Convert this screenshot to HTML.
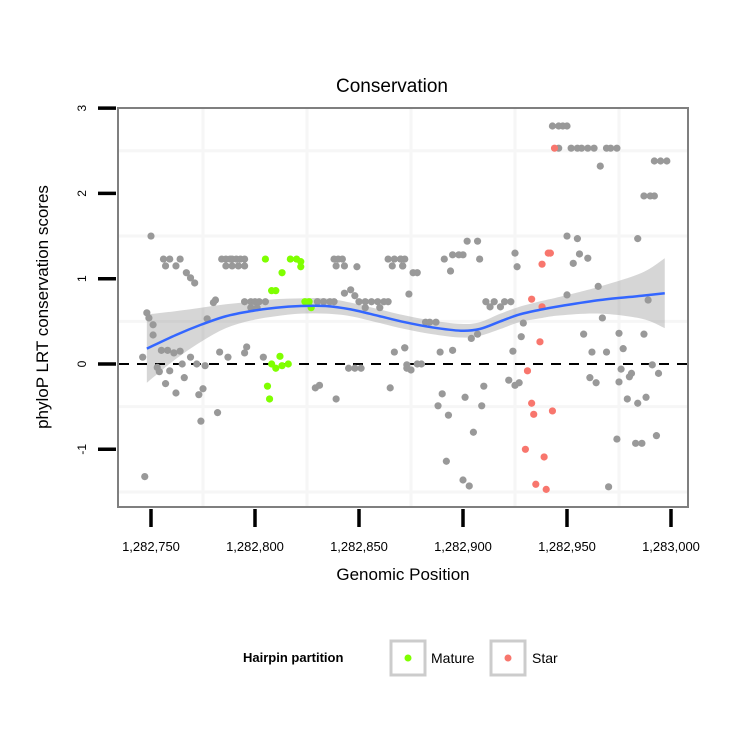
<!DOCTYPE html>
<html><head><meta charset="utf-8"><style>
body{margin:0;background:#fff;}
svg{display:block;font-family:"Liberation Sans",sans-serif;}
</style></head><body>
<svg id="chart" width="750" height="750">
<rect x="0" y="0" width="750" height="750" fill="#fff"/>
<text x="392" y="92" text-anchor="middle" font-size="19">Conservation</text>
<rect x="118" y="108" width="570" height="399" fill="#fff"/>
<g id="grid"></g>
<g id="band"></g>
<line id="zero" stroke="#000" stroke-width="2" stroke-dasharray="10,8"/>
<g id="pts"></g>
<path id="smooth" fill="none" stroke="#3366ff" stroke-width="2.5"/>
<rect x="118" y="108" width="570" height="399" fill="none" stroke="#7f7f7f" stroke-width="2"/>
<g id="axes"></g>
<text x="403" y="580" text-anchor="middle" font-size="17">Genomic Position</text>
<text transform="translate(48,307) rotate(-90)" text-anchor="middle" font-size="17">phyloP LRT conservation scores</text>
<g>
<text x="243" y="662" font-size="13" font-weight="bold">Hairpin partition</text>
<rect x="391" y="641" width="34" height="34" fill="#fff" stroke="#cccccc" stroke-width="3"/>
<circle cx="408" cy="658" r="3.5" fill="#7fff00"/>
<text x="431" y="663" font-size="14">Mature</text>
<rect x="491" y="641" width="34" height="34" fill="#fff" stroke="#cccccc" stroke-width="3"/>
<circle cx="508" cy="658" r="3.5" fill="#f8766d"/>
<text x="532" y="663" font-size="14">Star</text>
</g>
</svg>
<script>
const base = 1282750;
const xTicks = [1282750,1282800,1282850,1282900,1282950,1283000];
const xTickLabels = ["1,282,750","1,282,800","1,282,850","1,282,900","1,282,950","1,283,000"];
const yTicks = [-1,0,1,2,3];
const yTickLabels = ["-1","0","1","2","3"];
const xGrid = [1282775,1282825,1282875,1282925,1282975];
const yGrid = [-1.5,-0.5,0.5,1.5,2.5];
const grayX = [0,6,9,14,7,12,17,19,21,-2,-1,1,1,27,30,31,5,8,11,14,-4,3,4,9,15,19,22,26,7,12,16,23,25,24,32,33,37,45,46,54,-3,
34,36,38,39,41,43,45,36,39,42,45,45,48,50,52,55,48,51,88,90,92,89,93,99,114,117,120,122,116,121,93,96,98,80,83,86,88,
100,103,106,109,112,114,103,110,79,81,89,95,98,101,115,117,122,123,
120,121,126,128,124,132,134,137,122,123,125,128,130,139,145,140,138,143,151,159,160,155,142,150,153,141,145,148,150,144,152,157,158,154,157,
161,163,165,168,170,173,175,176,179,178,174,172,175,177,200,205,203,206,210,200,215,239,217,208,225,237,212,219,227,226,231,244,241,211,214,225,230,
229,234,238,224,233,236,243,220,234,216,237,240,242,242,245,248,193,196,198,200,196,202,205,207,210,213,219,221,224];
const grayY = [1.50,1.23,1.23,1.23,1.15,1.15,1.07,1.01,0.95,0.60,0.54,0.46,0.34,0.53,0.72,0.75,0.16,0.16,0.13,0.15,0.08,-0.04,-0.09,-0.08,0,0.08,0,-0.02,-0.23,-0.34,-0.16,-0.36,-0.29,-0.67,-0.57,0.14,0.08,0.13,0.20,0.08,-1.32,
1.23,1.23,1.23,1.23,1.23,1.23,1.23,1.15,1.15,1.15,1.15,0.73,0.73,0.73,0.73,0.73,0.66,0.66,1.23,1.23,1.23,1.15,1.15,1.14,1.23,1.23,1.23,1.23,1.15,1.15,0.83,0.87,0.80,0.73,0.73,0.73,0.73,
0.73,0.73,0.73,0.73,0.73,0.73,0.66,0.66,-0.28,-0.25,-0.41,-0.05,-0.05,-0.05,-0.28,0.14,0.19,-0.05,
1.23,1.15,1.07,1.07,0.82,0.49,0.49,0.49,0.19,-0.01,-0.07,0,0,0.14,0.16,-0.35,-0.49,-0.60,-0.39,-0.49,-0.26,-0.80,-1.14,-1.36,-1.43,1.23,1.28,1.28,1.28,1.09,1.44,1.44,1.23,0.30,0.35,
0.73,0.67,0.73,0.67,0.73,0.73,1.30,1.14,0.48,0.32,0.15,-0.19,-0.25,-0.22,1.50,1.47,1.18,1.29,1.24,0.81,0.91,0.75,0.54,0.35,0.36,0.35,0.14,0.14,0.18,-0.06,-0.11,-0.11,-0.01,-0.16,-0.22,-0.21,-0.15,
-0.41,-0.46,-0.39,-0.88,-0.93,-0.93,-0.84,-1.44,1.47,2.32,1.97,1.97,1.97,2.38,2.38,2.38,2.79,2.79,2.79,2.79,2.53,2.53,2.53,2.53,2.53,2.53,2.53,2.53,2.53];
const matureX = [55,67,70,72,72,63,60,58,74,76,77,62,58,60,63,66,56,57];
const matureY = [1.23,1.23,1.23,1.20,1.14,1.07,0.86,0.86,0.73,0.73,0.66,0.09,0,-0.05,-0.02,0,-0.26,-0.41];
const starX = [194,192,191,188,183,188,187,181,183,184,193,180,189,185,190];
const starY = [2.53,1.30,1.30,1.17,0.76,0.67,0.26,-0.08,-0.46,-0.59,-0.55,-1.00,-1.09,-1.41,-1.47];
const smoothX = [-2,12,24,36,48,60,72,84,96,110,122,135,149,158,168,177,188,197,216,236,247];
const smoothY = [0.18,0.34,0.46,0.56,0.62,0.66,0.68,0.68,0.64,0.56,0.49,0.43,0.39,0.41,0.50,0.58,0.64,0.68,0.75,0.80,0.83];
const smoothSE = [0.40,0.28,0.20,0.14,0.11,0.10,0.09,0.09,0.08,0.08,0.08,0.08,0.08,0.08,0.09,0.09,0.10,0.11,0.16,0.27,0.41];

const sx = v => 151 + (v - base) * 2.08;
const sy = v => 364 - v * 85.3;
const NS = "http://www.w3.org/2000/svg";
function mk(tag, attrs, parent){const e=document.createElementNS(NS,tag);for(const k in attrs)e.setAttribute(k,attrs[k]);parent.appendChild(e);return e;}
function spline(p){let d='M'+p[0][0]+','+p[0][1];for(let i=0;i<p.length-1;i++){const a=p[i-1]||p[i],b=p[i],c=p[i+1],e=p[i+2]||c;
d+=` C${b[0]+(c[0]-a[0])/6},${b[1]+(c[1]-a[1])/6} ${c[0]-(e[0]-b[0])/6},${c[1]-(e[1]-b[1])/6} ${c[0]},${c[1]}`;}return d;}

const grid=document.getElementById('grid');
xGrid.forEach(v=>{const l=mk('line',{x1:sx(v),x2:sx(v),y1:109,y2:506,stroke:'#f6f6f6','stroke-width':3},grid);

});
yGrid.forEach(v=>{const l=mk('line',{x1:119,x2:687,y1:sy(v),y2:sy(v),stroke:'#f6f6f6','stroke-width':3},grid);

});

const z=document.getElementById('zero');
z.setAttribute('x1',119);z.setAttribute('x2',687);z.setAttribute('y1',sy(0));z.setAttribute('y2',sy(0));

const up=[],lo=[],mid=[];
smoothX.forEach((x,i)=>{const px=sx(base+x);up.push([px,sy(smoothY[i]+smoothSE[i])]);lo.unshift([px,sy(smoothY[i]-smoothSE[i])]);mid.push([px,sy(smoothY[i])]);});
const bandD=spline(up)+' L'+lo[0][0]+','+lo[0][1]+spline(lo).replace(/^M[^C]*/,'')+' Z';
const band=mk('path',{d:bandD,fill:'#999','fill-opacity':0.4},document.getElementById('band'));


document.getElementById('smooth').setAttribute('d',spline(mid));

const pts=document.getElementById('pts');
grayX.forEach((x,i)=>{const c=mk('circle',{cx:sx(base+x),cy:sy(grayY[i]),r:3.6,fill:'#999999'},pts);

});
matureX.forEach((x,i)=>{const c=mk('circle',{cx:sx(base+x),cy:sy(matureY[i]),r:3.6,fill:'#7fff00'},pts);

});
starX.forEach((x,i)=>{const c=mk('circle',{cx:sx(base+x),cy:sy(starY[i]),r:3.6,fill:'#f8766d'},pts);

});

const ax=document.getElementById('axes');
xTicks.forEach((v,i)=>{const t=mk('line',{x1:sx(v),x2:sx(v),y1:509,y2:527,stroke:'#000','stroke-width':3.5},ax);


const tx=mk('text',{x:sx(v),y:551,'text-anchor':'middle','font-size':13},ax);tx.textContent=xTickLabels[i];

});
yTicks.forEach((v,i)=>{const t=mk('line',{x1:98,x2:116,y1:sy(v),y2:sy(v),stroke:'#000','stroke-width':3.5},ax);


const tx=mk('text',{transform:`translate(86,${sy(v)}) rotate(-90)`,'text-anchor':'middle','font-size':12},ax);tx.textContent=yTickLabels[i];

});
</script>
</body></html>
